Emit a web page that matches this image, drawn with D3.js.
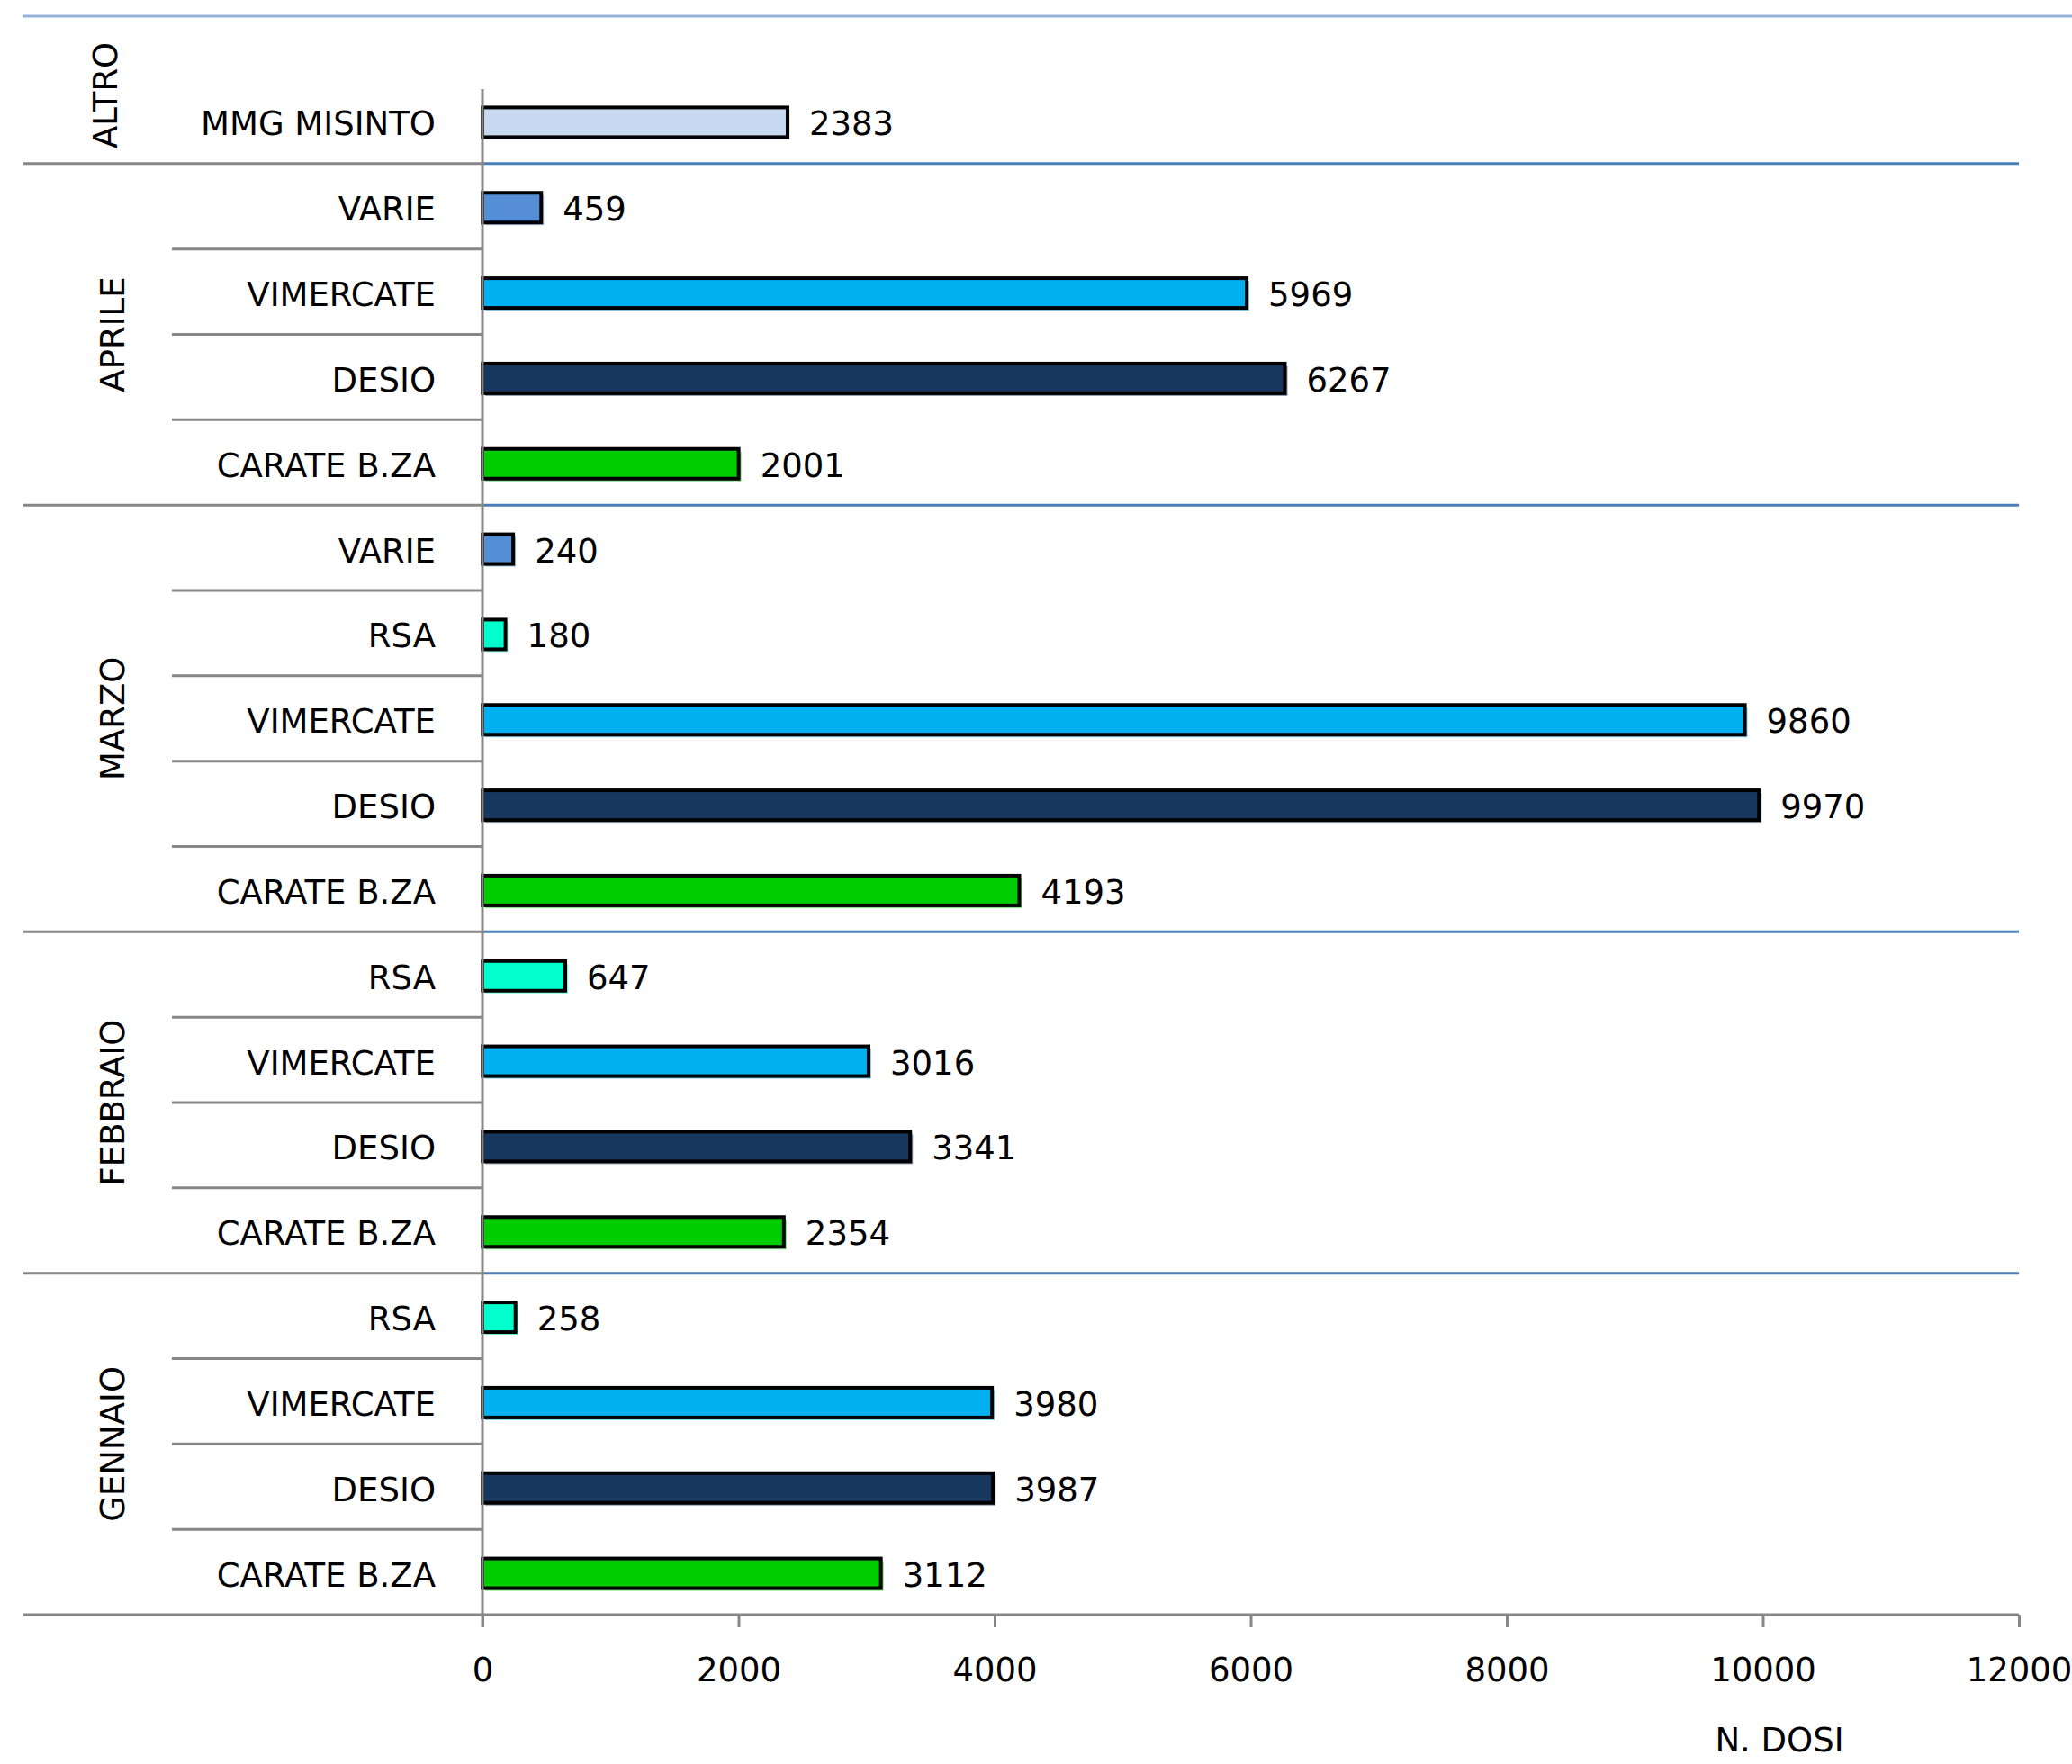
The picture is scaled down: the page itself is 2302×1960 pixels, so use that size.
<!DOCTYPE html>
<html>
<head>
<meta charset="utf-8">
<script src="https://cdn.jsdelivr.net/npm/d3@7"></script>
<style>
  body { margin: 0; background: #fff; }
  text { font-family: "DejaVu Sans", sans-serif; font-size: 37px; fill: #000; }
</style>
</head>
<body>
<script>
// righe dall'alto verso il basso: mese (gruppo), punto vaccinale, n. dosi
const groups = ["ALTRO", "APRILE", "MARZO", "FEBBRAIO", "GENNAIO"];
const rowGroup = [
    "ALTRO",
    "APRILE", "APRILE", "APRILE", "APRILE",
    "MARZO", "MARZO", "MARZO", "MARZO", "MARZO",
    "FEBBRAIO", "FEBBRAIO", "FEBBRAIO", "FEBBRAIO",
    "GENNAIO", "GENNAIO", "GENNAIO", "GENNAIO"
];
const rowLabel = [
    "MMG MISINTO",
    "VARIE", "VIMERCATE", "DESIO", "CARATE B.ZA",
    "VARIE", "RSA", "VIMERCATE", "DESIO", "CARATE B.ZA",
    "RSA", "VIMERCATE", "DESIO", "CARATE B.ZA",
    "RSA", "VIMERCATE", "DESIO", "CARATE B.ZA"
];
const doses = [
    2383,
    459, 5969, 6267, 2001,
    240, 180, 9860, 9970, 4193,
    647, 3016, 3341, 2354,
    258, 3980, 3987, 3112
];
const xTicks = [0, 2000, 4000, 6000, 8000, 10000, 12000];
const axisTitle = "N. DOSI";

// colori per punto vaccinale
const colors = {
    "MMG MISINTO": "#c6d9f1",
    "VARIE": "#558ed5",
    "RSA": "#00ffcc",
    "VIMERCATE": "#00b0f0",
    "DESIO": "#17375e",
    "CARATE B.ZA": "#00cc00"
};

const width = 2302, height = 1960;
const gray = "#878787", blue = "#4a7ebb";
const topLineY = 18, leftX = 26, catLineX = 191;

let svg = d3.select("body").append("svg")
    .attr("width", width)
    .attr("height", height);
svg.append("rect").attr("width", width).attr("height", height).attr("fill", "#fff");

let keys = rowLabel.map((l, i) => rowGroup[i] + "|" + l);

// Scala per l'asse X
let x = d3.scaleLinear()
    .domain([0, 12000])
    .range([536, 2243]);

// Scala per l'asse Y
let y = d3.scaleBand()
    .domain(keys)
    .range([87, 1794]);
let bw = y.bandwidth();
let bottomY = y.range()[1];

// linea in alto
svg.append("line")
    .attr("x1", leftX - 1).attr("x2", width)
    .attr("y1", topLineY).attr("y2", topLineY)
    .attr("stroke", "#95b3d7").attr("stroke-width", 3);

// estensione dei gruppi
let extents = groups.map((g, gi) => {
    let idx = rowGroup.map((d, i) => d === g ? i : -1).filter(i => i >= 0);
    let top = y(keys[idx[0]]);
    let bottom = y(keys[idx[idx.length - 1]]) + bw;
    return {name: g, top: gi === 0 ? topLineY + 12 : top, bottom: bottom};
});

// separatori fra gruppi
let seps = svg.append("g");
extents.slice(0, -1).forEach(e => {
    seps.append("line")
        .attr("x1", leftX).attr("x2", x(0))
        .attr("y1", e.bottom).attr("y2", e.bottom)
        .attr("stroke", gray).attr("stroke-width", 3);
    seps.append("line")
        .attr("x1", x(0)).attr("x2", x(12000))
        .attr("y1", e.bottom).attr("y2", e.bottom)
        .attr("stroke", blue).attr("stroke-width", 3);
});

// separatori fra categorie dello stesso gruppo
keys.forEach((k, i) => {
    if (i < keys.length - 1 && rowGroup[i] === rowGroup[i + 1]) {
        seps.append("line")
            .attr("x1", catLineX).attr("x2", x(0))
            .attr("y1", y(k) + bw).attr("y2", y(k) + bw)
            .attr("stroke", gray).attr("stroke-width", 3);
    }
});

// barre
let barH = 33;
let rows = keys.map((k, i) => ({key: k, label: rowLabel[i], value: doses[i]}));
let bars = svg.append("g");
bars.selectAll("rect.shadow")
    .data(rows)
    .join("rect")
    .attr("class", "shadow")
    .attr("x", x(0) + 3)
    .attr("y", d => y(d.key) + bw / 2 - barH / 2 + 1.5 + 3)
    .attr("width", d => x(d.value) - x(0))
    .attr("height", barH)
    .attr("fill", d => colors[d.label])
    .attr("opacity", 0.5);
bars.selectAll("rect.bar")
    .data(rows)
    .join("rect")
    .attr("class", "bar")
    .attr("x", x(0))
    .attr("y", d => y(d.key) + bw / 2 - barH / 2 + 1.5)
    .attr("width", d => x(d.value) - x(0))
    .attr("height", barH)
    .attr("fill", d => colors[d.label])
    .attr("stroke", "#000")
    .attr("stroke-width", 4);

// valori
bars.selectAll("text")
    .data(rows)
    .join("text")
    .attr("x", d => x(d.value) + 24)
    .attr("y", d => y(d.key) + bw / 2 + 16)
    .text(d => d.value);

// etichette categorie
svg.append("g").selectAll("text")
    .data(rows)
    .join("text")
    .attr("x", 484)
    .attr("y", d => y(d.key) + bw / 2 + 16)
    .attr("text-anchor", "end")
    .text(d => d.label);

// etichette gruppi (ruotate)
svg.append("g").selectAll("text")
    .data(extents)
    .join("text")
    .attr("transform", (d, i) => "translate(" + (i === 0 ? 117 : 125) + "," + (d.top + d.bottom) / 2 + ") rotate(-90)")
    .attr("text-anchor", "middle")
    .attr("dominant-baseline", "central")
    .text(d => d.name);

// asse verticale
svg.append("line")
    .attr("x1", x(0)).attr("x2", x(0))
    .attr("y1", 99).attr("y2", bottomY + 14)
    .attr("stroke", gray).attr("stroke-width", 3);

// asse orizzontale
let gx = svg.append("g")
    .attr("transform", "translate(0," + bottomY + ")")
    .call(d3.axisBottom(x).tickValues(xTicks).tickSize(14).tickPadding(34).tickFormat(d3.format("d")));
gx.attr("font-size", null).attr("font-family", null);
gx.select(".domain").remove();
gx.selectAll(".tick line").attr("stroke", gray).attr("stroke-width", 3);
gx.selectAll(".tick text").attr("fill", "#000");

svg.append("line")
    .attr("x1", leftX).attr("x2", x(12000))
    .attr("y1", bottomY).attr("y2", bottomY)
    .attr("stroke", gray).attr("stroke-width", 3);

svg.append("text")
    .attr("x", 1977)
    .attr("y", 1946)
    .attr("text-anchor", "middle")
    .text(axisTitle);
</script>
</body>
</html>
